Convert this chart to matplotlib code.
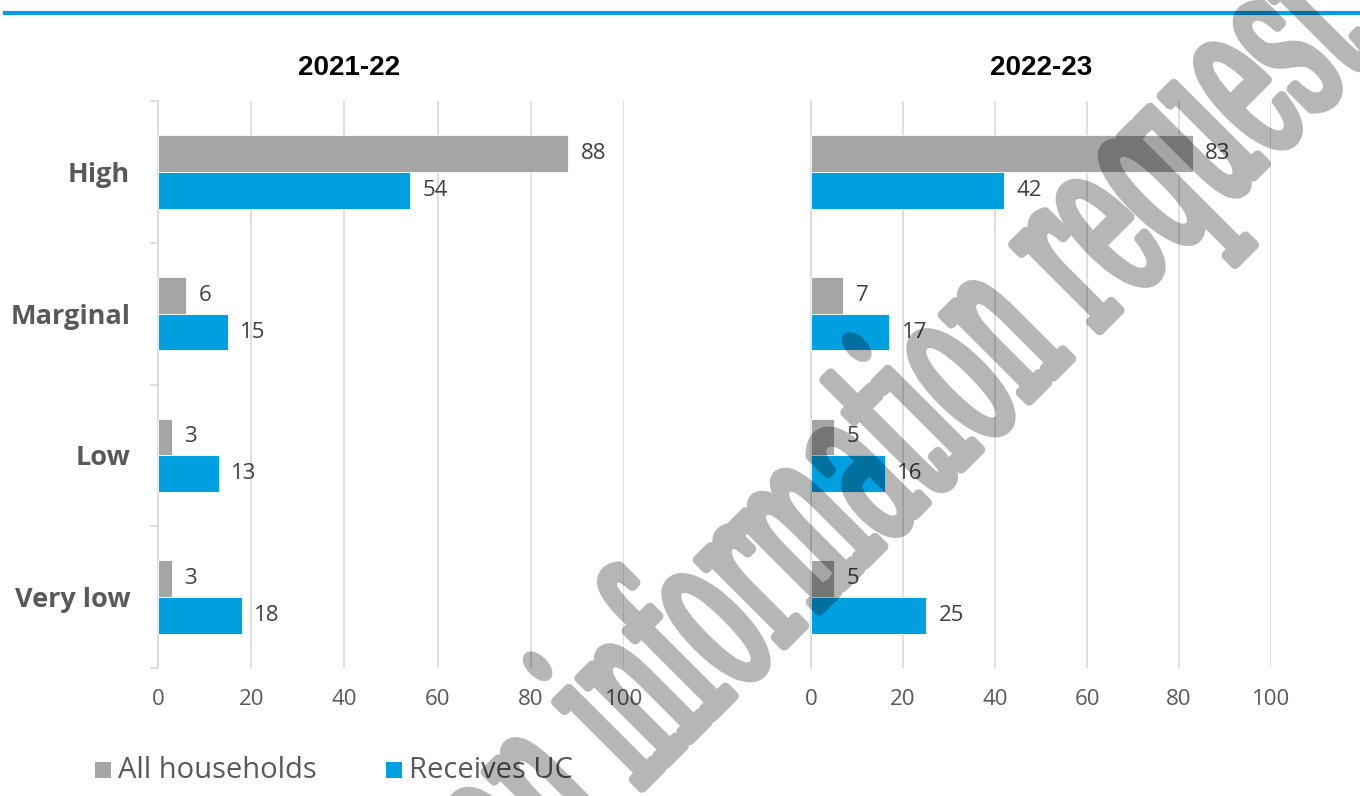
import numpy as np
import matplotlib
matplotlib.use("Agg")
import matplotlib.pyplot as plt
from matplotlib.patches import Rectangle, PathPatch
from matplotlib.textpath import TextPath, TextToPath
from matplotlib.font_manager import FontProperties
from matplotlib.transforms import Affine2D, IdentityTransform
from matplotlib.lines import Line2D

# ---- data -------------------------------------------------------------
categories = ["High", "Marginal", "Low", "Very low"]
periods = ["2021-22", "2022-23"]
series_names = ["All households", "Receives UC"]
all_2122 = [88, 6, 3, 3]
uc_2122 = [54, 15, 13, 18]
all_2223 = [83, 7, 5, 5]
uc_2223 = [42, 17, 16, 25]
x_ticks = [0, 20, 40, 60, 80, 100]
watermark = "Response to an information request"

# ---- style ------------------------------------------------------------
GRAY = "#a5a5a5"
BLUE = "#009fdf"
GRID = "#d9d9d9"
plt.rcParams["font.family"] = ["Open Sans", "DejaVu Sans"]

W, H = 1360, 796
fig = plt.figure(figsize=(W / 100, H / 100), dpi=100)
fig.patch.set_facecolor("white")


def px_axes(x0, x1, ytop, ybot):
    return fig.add_axes([x0 / W, 1 - ybot / H, (x1 - x0) / W, (ybot - ytop) / H])


def panel(ax, all_vals, uc_vals, show_labels):
    y = np.arange(len(categories))
    h = 0.26
    b1 = ax.barh(y - h / 2, all_vals, height=h, color=GRAY,
                 edgecolor="white", linewidth=0.6, zorder=3)
    b2 = ax.barh(y + h / 2, uc_vals, height=h, color=BLUE,
                 edgecolor="white", linewidth=0.6, zorder=3)
    for cont in (b1, b2):
        ax.bar_label(cont, padding=9, fontsize=16, color="#404040")
    ax.set_xlim(0, 100)
    ax.set_ylim(len(categories) - 0.5, -0.5)
    ax.set_xticks(x_ticks)
    ax.set_xticklabels([str(t) for t in x_ticks])
    ax.tick_params(axis="x", length=0, pad=15, labelsize=16, labelcolor="#595959")
    ax.grid(axis="x", color=GRID, linewidth=1.2, zorder=0)
    ax.set_axisbelow(True)
    for s in ("top", "right", "bottom"):
        ax.spines[s].set_visible(False)
    ax.spines["left"].set_color(GRID)
    ax.spines["left"].set_linewidth(1.2)
    if show_labels:
        ax.set_yticks(y)
        ax.set_yticklabels(categories, fontsize=19.5, fontweight="bold",
                           color="#595959")
        ax.tick_params(axis="y", which="major", length=0, pad=20)
        ax.set_yticks(np.arange(-0.5, len(categories)), minor=True)
        ax.tick_params(axis="y", which="minor", length=6, width=1.2,
                       color=GRID, direction="out")
    else:
        ax.set_yticks([])


ax1 = px_axes(158, 624, 101, 668)
panel(ax1, all_2122, uc_2122, True)
ax2 = px_axes(811, 1271, 101, 668)
panel(ax2, all_2223, uc_2223, False)

# panel titles
for cx, label in ((349, periods[0]), (1041, periods[1])):
    fig.text(cx / W, 1 - 68 / H, label, ha="center", va="center",
             fontsize=20, fontweight="bold", color="black",
             family=["Liberation Sans", "DejaVu Sans"])

# header rule
fig.add_artist(Line2D([5 / W, 1.0], [1 - 13 / H] * 2, color=BLUE,
                      linewidth=3.0, transform=fig.transFigure))

# legend
for (x0, col, name) in ((95, GRAY, series_names[0]), (386, BLUE, series_names[1])):
    fig.add_artist(Rectangle((x0 / W, 1 - 778 / H), 16 / W, 16 / H,
                             transform=fig.transFigure, color=col, lw=0))
    fig.text((x0 + 23) / W, 1 - 770 / H, name, ha="left", va="center",
             fontsize=21, color="#595959")

# diagonal watermark (condensed serif, darkening what lies beneath)
wprop = FontProperties(family="DejaVu Serif", weight="normal")
x_h = TextPath((0, 0), "x", size=1, prop=wprop).get_extents().height
S = 122 / x_h
wprop.set_size(S)
t2p = TextToPath()


def adv(s):
    w, _, _ = t2p.get_text_width_height_descent(s, wprop, ismath=False)
    return w


i1 = watermark.index("information") + 4
i2 = watermark.index("request")
a1 = adv(watermark[:i1])
a2 = adv(watermark[:i2] + "x") - adv("x")
sx = 446.0 / (a2 - a1)
stem = 0.12 * S
wpath = TextPath((0, 0), watermark, size=S, prop=wprop)
tr = (Affine2D().translate(-(a1 + stem), 0).scale(sx, 1.0)
      .rotate_deg(45).translate(790, H - 640))
wpatch = PathPatch(tr.transform_path(wpath), facecolor="black",
                   edgecolor="black", linewidth=7, joinstyle="round",
                   transform=IdentityTransform(), zorder=50)


def fade(img, dpi):
    img = img.copy()
    img[..., 3] *= 0.29
    return img, 0, 0


wpatch.set_agg_filter(fade)
fig.add_artist(wpatch)

fig.savefig("out.png", dpi=100, facecolor="white")
